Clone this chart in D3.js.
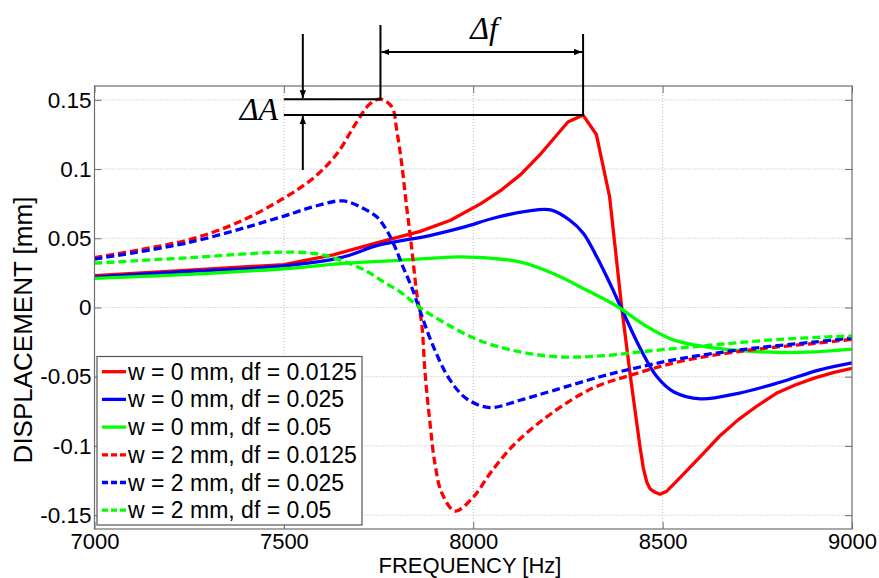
<!DOCTYPE html>
<html>
<head>
<meta charset="utf-8">
<script src="https://cdn.jsdelivr.net/npm/d3@7"></script>
<style>
  html, body { margin: 0; padding: 0; background: #fff; }
  svg { display: block; }
</style>
</head>
<body>
<svg id="chart" width="879" height="578"></svg>
<script>
// ---------------- DATA ----------------
const xTicks = [7000, 7500, 8000, 8500, 9000];
const xTickLabels = ["7000", "7500", "8000", "8500", "9000"];
const yTicks = [-0.15, -0.1, -0.05, 0, 0.05, 0.1, 0.15];
const yTickLabels = ["-0.15", "-0.1", "-0.05", "0", "0.05", "0.1", "0.15"];

const seriesNames = [
  "w = 0 mm, df = 0.0125",
  "w = 0 mm, df = 0.025",
  "w = 0 mm, df = 0.05",
  "w = 2 mm, df = 0.0125",
  "w = 2 mm, df = 0.025",
  "w = 2 mm, df = 0.05"
];

// w = 0 mm, df = 0.0125 (red solid)
const w0_df0125 = [
  [7000, 0.023], [7250, 0.027], [7500, 0.031], [7630, 0.038], [7750, 0.047],
  [7860, 0.055], [7940, 0.063], [8020, 0.075], [8075, 0.085], [8125, 0.096],
  [8175, 0.110], [8250, 0.134], [8290, 0.139], [8325, 0.125], [8360, 0.080],
  [8392, 0.000], [8415, -0.050], [8430, -0.080], [8440, -0.100], [8449, -0.116],
  [8458, -0.126], [8467, -0.131], [8480, -0.1335], [8493, -0.1349], [8511, -0.1327],
  [8528, -0.128], [8567, -0.117], [8607, -0.1055], [8650, -0.093], [8700, -0.081],
  [8750, -0.071], [8800, -0.062], [8850, -0.056], [8900, -0.051], [8950, -0.047], [9000, -0.044]
];
// w = 0 mm, df = 0.025 (blue solid)
const w0_df025 = [
  [7000, 0.022], [7250, 0.026], [7500, 0.030], [7650, 0.036], [7750, 0.045],
  [7885, 0.052], [7975, 0.058], [8060, 0.065], [8168, 0.0705], [8207, 0.0703],
  [8255, 0.063], [8291, 0.0535], [8326, 0.0366], [8361, 0.0173], [8390, 0.000],
  [8440, -0.029], [8485, -0.050], [8530, -0.061], [8600, -0.066], [8700, -0.062],
  [8810, -0.054], [8915, -0.045], [9000, -0.040]
];
// w = 0 mm, df = 0.05 (green solid)
const w0_df05 = [
  [7000, 0.021], [7250, 0.024], [7500, 0.028], [7665, 0.032], [7800, 0.034],
  [7885, 0.0355], [7965, 0.0366], [8050, 0.0355], [8123, 0.033], [8211, 0.0246],
  [8300, 0.0125], [8360, 0.004], [8385, 0.000], [8460, -0.014], [8530, -0.0236],
  [8615, -0.0285], [8700, -0.031], [8810, -0.0325], [8900, -0.032], [9000, -0.030]
];
// w = 2 mm, df = 0.0125 (red dashed)
const w2_df0125 = [
  [7000, 0.036], [7125, 0.042], [7250, 0.049], [7375, 0.061], [7500, 0.079],
  [7580, 0.094], [7640, 0.111], [7690, 0.133], [7727, 0.147], [7755, 0.1505],
  [7785, 0.145], [7798, 0.128], [7811, 0.104], [7824, 0.073], [7837, 0.044],
  [7851, 0.010], [7864, -0.012], [7873, -0.048], [7886, -0.084], [7899, -0.113],
  [7917, -0.134], [7952, -0.147], [8000, -0.137], [8044, -0.120], [8106, -0.0995],
  [8194, -0.079], [8282, -0.063], [8335, -0.056], [8414, -0.049], [8546, -0.039],
  [8722, -0.031], [8898, -0.026], [9000, -0.023]
];
// w = 2 mm, df = 0.025 (blue dashed)
const w2_df025 = [
  [7000, 0.035], [7250, 0.047], [7500, 0.066], [7580, 0.073], [7657, 0.077],
  [7710, 0.0715], [7745, 0.0655], [7771, 0.056], [7793, 0.044], [7815, 0.029],
  [7837, 0.015], [7859, -0.002], [7895, -0.0285], [7939, -0.0525], [7983, -0.066],
  [8044, -0.0723], [8123, -0.067], [8211, -0.060], [8335, -0.050], [8414, -0.0446],
  [8546, -0.037], [8722, -0.030], [8898, -0.025], [9000, -0.022]
];
// w = 2 mm, df = 0.05 (green dashed)
const w2_df05 = [
  [7000, 0.032], [7250, 0.036], [7500, 0.040], [7580, 0.039], [7630, 0.036],
  [7680, 0.031], [7720, 0.026], [7760, 0.019], [7806, 0.0115], [7859, 0.000],
  [7930, -0.012], [8018, -0.024], [8123, -0.032], [8229, -0.0357], [8335, -0.035],
  [8458, -0.0316], [8634, -0.027], [8810, -0.023], [9000, -0.0205]
];

const seriesData = [w0_df0125, w0_df025, w0_df05, w2_df0125, w2_df025, w2_df05];
const seriesColors = ["#ff0000", "#0000ff", "#00ff00", "#ff0000", "#0000ff", "#00ff00"];
const seriesDashed = [false, false, false, true, true, true];
const smooth = d3.curveCatmullRom.alpha(0.5);
const seriesCurves = [d3.curveLinear, smooth, smooth, smooth, smooth, smooth];

// ---------------- LAYOUT ----------------
const SANS = "'Liberation Sans', Arial, Helvetica, sans-serif";
const SERIF = "'Liberation Serif', 'DejaVu Serif', 'Times New Roman', serif";
const svg = d3.select("#chart");
const pL = 94.5, pR = 852, pT = 86, pB = 529;

const x = d3.scaleLinear().domain([7000, 9000]).range([pL, pR]);
const y = d3.scaleLinear().domain([-0.16, 0.16]).range([pB, pT]);

const defs = svg.append("defs");
defs.append("clipPath").attr("id", "plotclip")
  .append("rect").attr("x", pL).attr("y", pT).attr("width", pR - pL).attr("height", pB - pT);

defs.append("marker").attr("id", "arrow")
  .attr("viewBox", "0 0 10 10").attr("refX", 10).attr("refY", 5)
  .attr("markerWidth", 4).attr("markerHeight", 4).attr("orient", "auto-start-reverse")
  .attr("markerUnits", "strokeWidth")
  .append("path").attr("d", "M0,1 L10,5 L0,9 Z").attr("fill", "#000");

svg.append("rect").attr("x", pL).attr("y", pT).attr("width", pR - pL).attr("height", pB - pT)
  .attr("fill", "#fff");

// grid
const grid = svg.append("g");
grid.selectAll(".gx").data(xTicks.filter(t => t > 7000 && t < 9000)).enter().append("line")
  .attr("x1", d => x(d)).attr("x2", d => x(d)).attr("y1", pT).attr("y2", pB)
  .attr("stroke", "#b8b8b8").attr("stroke-width", 1).attr("stroke-dasharray", "1,2");
grid.selectAll(".gy").data(yTicks).enter().append("line")
  .attr("x1", pL).attr("x2", pR).attr("y1", d => y(d)).attr("y2", d => y(d))
  .attr("stroke", "#b8b8b8").attr("stroke-width", 1).attr("stroke-dasharray", "1,2");

// axes with inward ticks
const tickLen = 7;
const xAxisB = d3.axisBottom(x).tickValues(xTicks).tickSizeInner(-tickLen).tickSizeOuter(0)
  .tickFormat((d, i) => xTickLabels[i]).tickPadding(4);
const xAxisT = d3.axisTop(x).tickValues(xTicks).tickSizeInner(-tickLen).tickSizeOuter(0).tickFormat("");
const yAxisL = d3.axisLeft(y).tickValues(yTicks).tickSizeInner(-tickLen).tickSizeOuter(0)
  .tickFormat((d, i) => yTickLabels[i]).tickPadding(3);
const yAxisR = d3.axisRight(y).tickValues(yTicks).tickSizeInner(-tickLen).tickSizeOuter(0).tickFormat("");

function styleAxis(g, size) {
  g.select(".domain").remove();
  g.selectAll(".tick line").attr("stroke", "#6e6e6e").attr("stroke-width", 1);
  g.selectAll(".tick text").attr("fill", "#000")
    .style("font-family", SANS).style("font-size", size + "px");
}
svg.append("g").attr("transform", `translate(0,${pB})`).call(xAxisB).call(styleAxis, 22);
svg.append("g").attr("transform", `translate(0,${pT})`).call(xAxisT).call(styleAxis, 22);
svg.append("g").attr("transform", `translate(${pL},0)`).call(yAxisL).call(styleAxis, 22.5);
svg.append("g").attr("transform", `translate(${pR},0)`).call(yAxisR).call(styleAxis, 22);

// data lines
const linesG = svg.append("g").attr("clip-path", "url(#plotclip)");
seriesData.forEach((s, i) => {
  const line = d3.line().x(d => x(d[0])).y(d => y(d[1])).curve(seriesCurves[i]);
  linesG.append("path").datum(s)
    .attr("d", line)
    .attr("fill", "none")
    .attr("stroke", seriesColors[i])
    .attr("stroke-width", 3.3)
    .attr("stroke-dasharray", seriesDashed[i] ? "8,4" : null)
    .attr("stroke-linejoin", "round");
});

// frame
svg.append("rect").attr("x", pL).attr("y", pT).attr("width", pR - pL).attr("height", pB - pT)
  .attr("fill", "none").attr("stroke", "#6e6e6e").attr("stroke-width", 1.2);

// axis labels
svg.append("text").attr("x", 470).attr("y", 572.5).attr("text-anchor", "middle")
  .style("font-family", SANS).style("font-size", "22px").text("FREQUENCY [Hz]");
svg.append("text").attr("transform", "translate(32,330) rotate(-90)").attr("text-anchor", "middle")
  .style("font-family", SANS).style("font-size", "26px").text("DISPLACEMENT [mm]");

// ---------------- ANNOTATIONS (ΔA, Δf) ----------------
const peakDashed = w2_df0125.reduce((a, b) => (b[1] > a[1] ? b : a));
const peakSolid = w0_df0125.reduce((a, b) => (b[1] > a[1] ? b : a));
const ann = svg.append("g").attr("stroke", "#000").attr("stroke-width", 2).attr("fill", "none");
const xRef = 7500, xArrowA = 7550;
ann.append("line").attr("x1", x(xRef)).attr("x2", x(peakDashed[0])).attr("y1", y(peakDashed[1])).attr("y2", y(peakDashed[1]));
ann.append("line").attr("x1", x(xRef)).attr("x2", x(peakSolid[0])).attr("y1", y(peakSolid[1])).attr("y2", y(peakSolid[1]));
ann.append("line").attr("x1", x(peakDashed[0])).attr("x2", x(peakDashed[0])).attr("y1", y(peakDashed[1]) + 1).attr("y2", 25);
ann.append("line").attr("x1", x(peakSolid[0])).attr("x2", x(peakSolid[0])).attr("y1", y(peakSolid[1]) + 1).attr("y2", 34);
ann.append("line").attr("x1", x(peakDashed[0]) + 1).attr("x2", x(peakSolid[0]) - 1).attr("y1", 52).attr("y2", 52)
  .attr("marker-start", "url(#arrow)").attr("marker-end", "url(#arrow)");
ann.append("line").attr("x1", x(xArrowA)).attr("x2", x(xArrowA)).attr("y1", 34).attr("y2", y(peakDashed[1]) - 1)
  .attr("marker-end", "url(#arrow)");
ann.append("line").attr("x1", x(xArrowA)).attr("x2", x(xArrowA)).attr("y1", 170).attr("y2", y(peakSolid[1]) + 1)
  .attr("marker-end", "url(#arrow)");

svg.append("text").attr("x", 278).attr("y", 120).attr("text-anchor", "end")
  .style("font-family", SERIF).style("font-style", "italic").style("font-size", "32px").text("ΔA");
svg.append("text").attr("x", 484).attr("y", 39).attr("text-anchor", "middle")
  .style("font-family", SERIF).style("font-style", "italic").style("font-size", "32px").text("Δf");

// ---------------- LEGEND ----------------
const lg = svg.append("g");
const lgX = 97, lgY = 356.5, lgW = 265, lgH = 168.5;
lg.append("rect").attr("x", lgX).attr("y", lgY).attr("width", lgW).attr("height", lgH)
  .attr("fill", "#fff").attr("stroke", "#555").attr("stroke-width", 1.2);
const rowStep = 27.7, row0 = 371.7;
seriesNames.forEach((name, i) => {
  const cy = row0 + i * rowStep;
  lg.append("line").attr("x1", 102).attr("x2", 126).attr("y1", cy).attr("y2", cy)
    .attr("stroke", seriesColors[i]).attr("stroke-width", 3.3)
    .attr("stroke-dasharray", seriesDashed[i] ? "6,3" : null);
  lg.append("text").attr("x", 128).attr("y", cy + 8)
    .style("font-family", SANS).style("font-size", "23px").text(name);
});
</script>
</body>
</html>
